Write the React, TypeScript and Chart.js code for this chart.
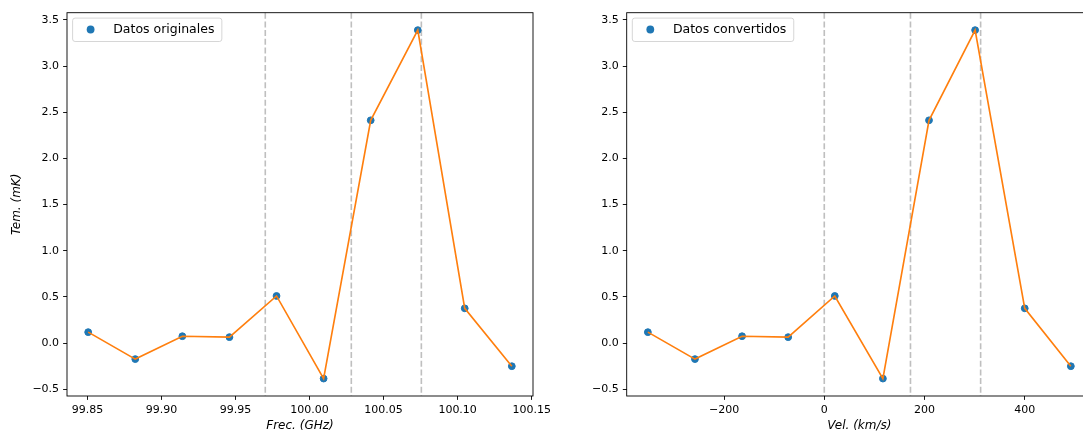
import React, { useEffect, useRef } from "react";
import { Chart, registerables } from "chart.js";

Chart.register(...registerables);

// ---- data ----
const freqGHz = [99.8505, 99.8823, 99.9141, 99.9459, 99.9777, 100.0095, 100.0413, 100.0731, 100.1048, 100.1366];
const velKms = [-352, -258, -164, -72, 21, 117, 209, 301, 400, 492];
const tempMk = [0.118, -0.174, 0.074, 0.064, 0.51, -0.385, 2.413, 3.39, 0.376, -0.251];
const freqMarkers = [99.9701, 100.0282, 100.0755];
const velMarkers = [0, 172, 312];
const freqTicks = [99.85, 99.9, 99.95, 100.0, 100.05, 100.1, 100.15];
const velTicks = [-200, 0, 200, 400];
const tempTicks = [-0.5, 0, 0.5, 1, 1.5, 2, 2.5, 3, 3.5];

const FONT = "'DejaVu Sans', 'Liberation Sans', sans-serif";
const BLUE = "#1f77b4";
const ORANGE = "#ff7f0e";

Chart.defaults.font.family = FONT;
Chart.defaults.font.size = 11;
Chart.defaults.color = "#000";

const fmt = (v: number, d: number) => v.toFixed(d).replace("-", "\u2212");

function paddedRange(vals: number[]) {
  const lo = Math.min(...vals);
  const hi = Math.max(...vals);
  const m = (hi - lo) * 0.05;
  return [lo - m, hi + m];
}

interface PanelSpec {
  xs: number[];
  xTicks: number[];
  xDecimals: number;
  markers: number[];
  label: string;
  xTitle: string;
  yTitle: string | null;
  yWidth: number;
  padRight: number;
}

function buildConfig(spec: PanelSpec): any {
  const pts = spec.xs.map((x, i) => ({ x, y: tempMk[i] }));
  const [xmin, xmax] = paddedRange(spec.xs);
  const [ymin, ymax] = paddedRange(tempMk);
  const tickGrid = {
    display: true,
    drawOnChartArea: false,
    drawTicks: true,
    tickLength: 3.9,
    tickWidth: 0.9,
    tickColor: "#000",
    color: "#000",
    lineWidth: 0.9,
  };
  const decor = {
    id: "mplDecor",
    beforeDatasetsDraw(chart: any) {
      const { ctx, chartArea } = chart;
      const xs = chart.scales.x;
      ctx.save();
      ctx.strokeStyle = "rgba(128,128,128,0.5)";
      ctx.lineWidth = 1.6;
      ctx.setLineDash([6, 2.7]);
      for (const v of spec.markers) {
        const px = xs.getPixelForValue(v);
        ctx.beginPath();
        ctx.moveTo(px, chartArea.top);
        ctx.lineTo(px, chartArea.bottom);
        ctx.stroke();
      }
      ctx.restore();
    },
    afterDatasetsDraw(chart: any) {
      const { ctx, chartArea } = chart;
      ctx.save();
      // spines
      ctx.strokeStyle = "#000";
      ctx.lineWidth = 0.9;
      ctx.strokeRect(chartArea.left, chartArea.top, chartArea.right - chartArea.left, chartArea.bottom - chartArea.top);
      // legend
      const label = chart.data.datasets[1].label as string;
      ctx.font = `12.5px ${FONT}`;
      const tw = ctx.measureText(label).width;
      const bx = chartArea.left + 5.6;
      const by = chartArea.top + 5.4;
      const bw = tw + 48;
      const bh = 23.4;
      const r = 2.5;
      ctx.beginPath();
      ctx.moveTo(bx + r, by);
      ctx.lineTo(bx + bw - r, by);
      ctx.quadraticCurveTo(bx + bw, by, bx + bw, by + r);
      ctx.lineTo(bx + bw, by + bh - r);
      ctx.quadraticCurveTo(bx + bw, by + bh, bx + bw - r, by + bh);
      ctx.lineTo(bx + r, by + bh);
      ctx.quadraticCurveTo(bx, by + bh, bx, by + bh - r);
      ctx.lineTo(bx, by + r);
      ctx.quadraticCurveTo(bx, by, bx + r, by);
      ctx.closePath();
      ctx.fillStyle = "rgba(255,255,255,0.8)";
      ctx.fill();
      ctx.strokeStyle = "rgba(204,204,204,0.8)";
      ctx.lineWidth = 1;
      ctx.stroke();
      ctx.beginPath();
      ctx.arc(bx + 18, by + 11.4, 3.9, 0, Math.PI * 2);
      ctx.fillStyle = BLUE;
      ctx.fill();
      ctx.fillStyle = "#000";
      ctx.textBaseline = "middle";
      ctx.textAlign = "left";
      ctx.fillText(label, bx + 40.6, by + 11.8);
      ctx.restore();
    },
  };

  return {
    type: "scatter",
    data: {
      datasets: [
        {
          type: "line",
          label: "_line",
          data: pts,
          borderColor: ORANGE,
          borderWidth: 1.65,
          pointRadius: 0,
          showLine: true,
          tension: 0,
          fill: false,
        },
        {
          type: "scatter",
          label: spec.label,
          data: pts,
          backgroundColor: BLUE,
          borderColor: BLUE,
          borderWidth: 1,
          pointRadius: 3.4,
          showLine: false,
        },
      ],
    },
    options: {
      responsive: false,
      animation: false,
      devicePixelRatio: 1,
      events: [],
      layout: { padding: { left: 0, top: 12.7, right: spec.padRight, bottom: 0 } },
      plugins: { legend: { display: false }, tooltip: { enabled: false } },
      scales: {
        x: {
          type: "linear",
          min: xmin,
          max: xmax,
          grid: tickGrid,
          border: { display: false },
          afterBuildTicks: (s: any) => {
            s.ticks = spec.xTicks.map((v) => ({ value: v }));
          },
          afterFit: (s: any) => {
            s.height = 44;
          },
          ticks: {
            padding: 3.2,
            maxRotation: 0,
            autoSkip: false,
            color: "#000",
            font: { size: 11, family: FONT },
            callback: (v: any) => fmt(Number(v), spec.xDecimals),
          },
          title: {
            display: true,
            text: spec.xTitle,
            color: "#000",
            font: { size: 12, style: "italic", family: FONT },
            padding: { top: 0, bottom: 7.3 },
          },
        },
        y: {
          type: "linear",
          min: ymin,
          max: ymax,
          grid: tickGrid,
          border: { display: false },
          afterBuildTicks: (s: any) => {
            s.ticks = tempTicks.map((v) => ({ value: v }));
          },
          afterFit: (s: any) => {
            s.width = spec.yWidth;
          },
          ticks: {
            padding: 4,
            autoSkip: false,
            color: "#000",
            font: { size: 11, family: FONT },
            callback: (v: any) => fmt(Number(v), 1),
          },
          title: {
            display: !!spec.yTitle,
            text: spec.yTitle || "",
            color: "#000",
            font: { size: 12, style: "italic", family: FONT },
            padding: { top: 10, bottom: 0 },
          },
        },
      },
    },
    plugins: [decor],
  };
}

function Panel({ spec, left }: { spec: PanelSpec; left: number }) {
  const ref = useRef<HTMLCanvasElement>(null);
  useEffect(() => {
    const chart = new Chart(ref.current as HTMLCanvasElement, buildConfig(spec));
    return () => chart.destroy();
  }, []);
  return (
    <canvas
      ref={ref}
      width={560}
      height={440}
      style={{ position: "absolute", left, top: 0, width: 560, height: 440 }}
    />
  );
}

const leftSpec: PanelSpec = {
  xs: freqGHz,
  xTicks: freqTicks,
  xDecimals: 2,
  markers: freqMarkers,
  label: "Datos originales",
  xTitle: "Frec. (GHz)",
  yTitle: "Tem. (mK)",
  yWidth: 67,
  padRight: 27,
};

const rightSpec: PanelSpec = {
  xs: velKms,
  xTicks: velTicks,
  xDecimals: 0,
  markers: velMarkers,
  label: "Datos convertidos",
  xTitle: "Vel. (km/s)",
  yTitle: null,
  yWidth: 66.7,
  padRight: 28,
};

export default function App() {
  return (
    <div
      style={{
        position: "fixed",
        left: 0,
        top: 0,
        width: 1120,
        height: 440,
        background: "#fff",
        overflow: "hidden",
      }}
    >
      <Panel spec={leftSpec} left={0} />
      <Panel spec={rightSpec} left={560} />
    </div>
  );
}
